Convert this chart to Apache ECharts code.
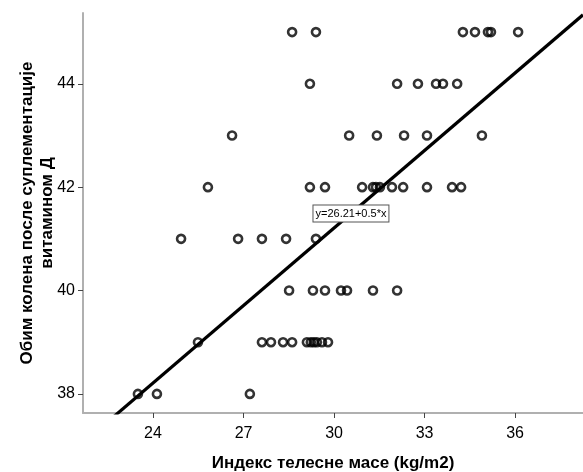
<!DOCTYPE html>
<html>
<head>
<meta charset="utf-8">
<script src="https://cdn.jsdelivr.net/npm/echarts@6/dist/echarts.min.js"></script>
<style>
html,body{margin:0;padding:0;background:#fff;}
#chart{width:583px;height:472px;}
</style>
</head>
<body>
<div id="chart"></div>
<script>
const xTicks = [24, 27, 30, 33, 36];
const yTicks = [38, 40, 42, 44];
const bmi = [
  28.61, 29.40, 34.27, 34.67, 35.10, 35.20, 36.10,
  29.20, 32.09, 32.78, 33.38, 33.61, 34.08,
  26.62, 30.50, 31.42, 32.32, 33.08, 34.90,
  25.82, 29.20, 29.70, 30.93, 31.29, 31.39, 31.52, 31.92, 32.29, 33.08, 33.91, 34.21,
  24.93, 26.82, 27.61, 28.41, 29.40,
  28.51, 29.30, 29.70, 30.23, 30.43, 31.29, 32.09,
  25.49, 27.61, 27.91, 28.31, 28.61, 29.10, 29.23, 29.33, 29.43, 29.60, 29.80,
  23.50, 24.13, 27.21
];
const knee = [
  45, 45, 45, 45, 45, 45, 45,
  44, 44, 44, 44, 44, 44,
  43, 43, 43, 43, 43, 43,
  42, 42, 42, 42, 42, 42, 42, 42, 42, 42, 42, 42,
  41, 41, 41, 41, 41,
  40, 40, 40, 40, 40, 40, 40,
  39, 39, 39, 39, 39, 39, 39, 39, 39, 39, 39,
  38, 38, 38
];
const fitIntercept = 26.21;
const fitSlope = 0.5;
const fitLabel = 'y=26.21+0.5*x';
const xRange = [21.68, 38.25];
const yRange = [37.63, 45.37];
const fitLine = [xRange[0], xRange[1]].map(x => [x, fitIntercept + fitSlope * x]);
const labelX = 30.56;

const chart = echarts.init(document.getElementById('chart'), null, {renderer: 'canvas'});
const font = 'Arial, "Liberation Sans", sans-serif';
chart.setOption({
  animation: false,
  backgroundColor: '#fff',
  grid: {left: 83, right: 0, top: 13, bottom: 59, containLabel: false, outerBoundsMode: 'none'},
  xAxis: {
    type: 'value', min: xRange[0], max: xRange[1],
    name: 'Индекс телесне масе (kg/m2)', nameLocation: 'middle', nameGap: 42, nameMoveOverlap: false,
    nameTextStyle: {fontFamily: font, fontSize: 17, fontWeight: 'bold', color: '#000'},
    axisLine: {show: true, onZero: false, lineStyle: {color: '#b0b0b0', width: 2}},
    axisTick: {show: true, length: 5, customValues: xTicks, lineStyle: {color: '#444', width: 1}},
    axisLabel: {customValues: xTicks, margin: 13, fontFamily: font, fontSize: 16, color: '#000'},
    splitLine: {show: false}
  },
  yAxis: {
    type: 'value', min: yRange[0], max: yRange[1],
    name: 'Обим колена после суплементације\nвитамином Д', nameLocation: 'middle', nameGap: 26, nameMoveOverlap: false,
    nameTextStyle: {fontFamily: font, fontSize: 17, fontWeight: 'bold', color: '#000', lineHeight: 20},
    axisLine: {show: true, onZero: false, lineStyle: {color: '#b0b0b0', width: 2}},
    axisTick: {show: true, length: 5, customValues: yTicks, lineStyle: {color: '#444', width: 1}},
    axisLabel: {customValues: yTicks, margin: 8, fontFamily: font, fontSize: 16, color: '#000'},
    splitLine: {show: false}
  },
  series: [
    {
      type: 'line', data: fitLine, showSymbol: false, symbol: 'none',
      lineStyle: {color: '#000', width: 3.2}, z: 3, silent: true,
      markPoint: {
        symbol: 'rect', symbolSize: 1, itemStyle: {color: 'transparent'},
        data: [{coord: [labelX, fitIntercept + fitSlope * labelX]}],
        label: {show: true, position: 'inside', formatter: fitLabel, fontFamily: font, fontSize: 11,
          color: '#000', backgroundColor: '#fff', borderColor: '#555', borderWidth: 1, padding: [3, 2, 2, 2]}
      }
    },
    {
      type: 'scatter', data: bmi.map((x, i) => [x, knee[i]]),
      symbol: 'circle', symbolSize: 8,
      itemStyle: {color: 'transparent', borderColor: '#000', borderWidth: 2.6}, z: 4
    }
  ]
});
</script>
</body>
</html>
